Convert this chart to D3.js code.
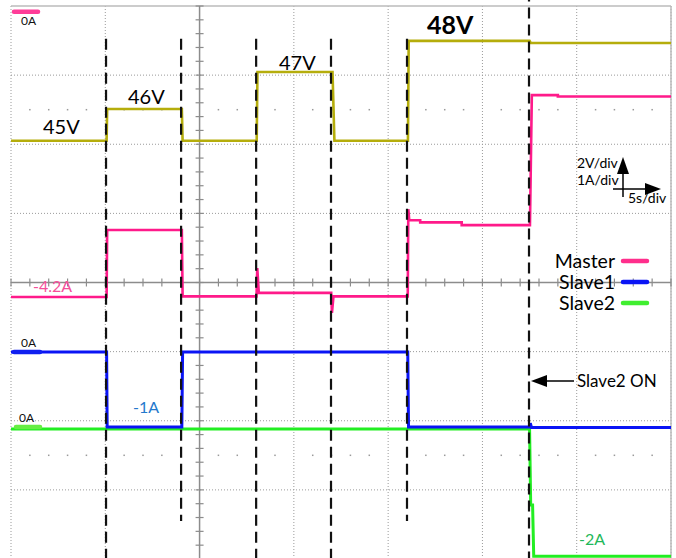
<!DOCTYPE html>
<html><head><meta charset="utf-8">
<script src="https://cdn.jsdelivr.net/npm/d3@7"></script>
<style>
html,body{margin:0;padding:0;background:#fff;}
svg{display:block;}
text{font-family:Lato,"Liberation Sans",sans-serif;}
</style></head>
<body>
<svg id="chart" width="676" height="558"></svg>
<script>
// ---------- data ----------
// time axis: 5 s/div, 7 visible divisions
const timeTicks = [0, 5, 10, 15, 20, 25, 30, 35];
const divTicks = [-4, -3, -2, -1, 0, 1, 2, 3, 4];
// step instants (s) marked by the dashed lines
const eventTimes = [5.04, 9.02, 13.0, 16.97, 21.0, 27.47];
const eventTop = [47.95, 47.95, 47.95, 47.95, 47.95, 49.35]; // upper end, in volts
const eventBottom = [-4.0, -3.45, -4.0, -4.0, -3.45, -4.0]; // lower end, in divisions

// Bus voltage (V), 2 V/div
const voltT = [0, 5.07, 5.10, 9.06, 9.10, 13.03, 13.07, 17.05, 17.15, 21.05, 21.09, 27.5, 27.56, 35];
const voltV = [45.0, 45.0, 45.92, 45.92, 45.0, 45.0, 46.99, 46.99, 45.0, 45.0, 47.89, 47.89, 47.83, 47.83];

// Master current (A), 1 A/div
const masterT = [0, 5.07, 5.10, 9.06, 9.10, 13.02, 13.06, 13.14, 16.98, 17.02, 17.10, 21.04, 21.07, 21.12, 21.7, 21.7, 23.9, 23.9, 27.52, 27.62, 29.0, 29.0, 35];
const masterI = [-4.14, -4.14, -3.17, -3.17, -4.13, -4.13, -3.72, -4.08, -4.08, -4.37, -4.13, -4.13, -2.87, -3.03, -3.03, -3.06, -3.06, -3.10, -3.10, -1.22, -1.22, -1.24, -1.24];

// Slave1 current (A), 1 A/div
const slave1T = [0, 5.07, 5.10, 9.06, 9.10, 21.04, 21.08, 27.5, 27.54, 27.6, 35];
const slave1I = [0, 0, -1.085, -1.085, 0, 0, -1.085, -1.085, -1.03, -1.09, -1.09];

// Slave2 current (A), 1 A/div
const slave2T = [0, 27.5, 27.56, 27.66, 27.72, 35];
const slave2I = [-0.03, -0.03, -1.13, -1.13, -1.87, -1.87];

// channel reference positions (divisions from screen centre) and voltage offset
const voltOffset = 40.9;      // V at the screen centre
const masterZero = 3.93;      // div
const slave1Zero = -1.006;    // div
const slave2Zero = -2.09;     // div

const legendNames = ["Master", "Slave1", "Slave2"];
const legendColors = ["#ff2e8c", "#0a14f5", "#40ee30"];

// ---------- scales ----------
const svg = d3.select("#chart");
const x = d3.scaleLinear().domain([0, 35]).range([11, 671]);
const yDiv = d3.scaleLinear().domain([-4, 4]).range([559, 6]);
const yVolt = v => yDiv((v - voltOffset) / 2);
const yAmp = zero => a => yDiv(a + zero);

const gridCol = "#9a9a9a";
const g = svg.append("g");

// dotted graticule
g.selectAll("line.vg").data(timeTicks.filter(t => t !== 10)).join("line")
  .attr("x1", d => x(d)).attr("x2", d => x(d))
  .attr("y1", yDiv(4)).attr("y2", yDiv(-4))
  .attr("stroke", gridCol).attr("stroke-width", 1).attr("stroke-dasharray", "1,2");
g.selectAll("line.hg").data(divTicks.filter(d => d !== 0 && d !== 4)).join("line")
  .attr("x1", x(0)).attr("x2", x(35))
  .attr("y1", d => yDiv(d)).attr("y2", d => yDiv(d))
  .attr("stroke", gridCol).attr("stroke-width", 1).attr("stroke-dasharray", "1,2");
// top and right borders
g.append("line").attr("x1", x(0)).attr("x2", x(35)).attr("y1", yDiv(4)).attr("y2", yDiv(4))
  .attr("stroke", "#bbb").attr("stroke-width", 1.5);
g.append("line").attr("x1", x(35)).attr("x2", x(35)).attr("y1", yDiv(4)).attr("y2", yDiv(-4))
  .attr("stroke", "#bbb").attr("stroke-width", 1.5);

// sub-division dot rows
const subT = d3.range(0, 35.01, 1).filter(t => t % 5 !== 0);
[2.5, -2.5].forEach(dv => {
  g.selectAll(null).data(subT).join("rect")
    .attr("x", d => x(d) - 0.75).attr("y", yDiv(dv) - 0.75)
    .attr("width", 1.5).attr("height", 1.5).attr("fill", gridCol);
});

// centre axes with minor ticks
g.append("line").attr("x1", x(10)).attr("x2", x(10)).attr("y1", yDiv(4)).attr("y2", yDiv(-4))
  .attr("stroke", "#8c8c8c").attr("stroke-width", 1.5);
g.append("line").attr("x1", x(0)).attr("x2", x(35)).attr("y1", yDiv(0)).attr("y2", yDiv(0))
  .attr("stroke", "#8c8c8c").attr("stroke-width", 1.5);
const subDiv = d3.range(-4, 4.001, 0.2).map(d => Math.round(d * 10) / 10);
g.selectAll(null).data(subDiv).join("line")
  .attr("x1", x(10) - 4).attr("x2", x(10) + 4)
  .attr("y1", d => yDiv(d)).attr("y2", d => yDiv(d))
  .attr("stroke", "#8c8c8c").attr("stroke-width", 1.2);
g.selectAll(null).data(d3.range(0, 35.01, 1)).join("line")
  .attr("x1", d => x(d)).attr("x2", d => x(d))
  .attr("y1", yDiv(0) - 4).attr("y2", yDiv(0) + 4)
  .attr("stroke", "#8c8c8c").attr("stroke-width", 1.2);

// ---------- traces ----------
function trace(T, V, yf, color, w) {
  const line = d3.line().x((d, i) => x(T[i])).y(d => yf(d));
  svg.append("path").attr("d", line(V)).attr("fill", "none")
    .attr("stroke", color).attr("stroke-width", w).attr("stroke-linejoin", "miter");
}
trace(slave2T, slave2I, yAmp(slave2Zero), "#22ee22", 3);
trace(slave1T, slave1I, yAmp(slave1Zero), "#0a14f5", 3);
trace(masterT, masterI, yAmp(masterZero), "#ff1a8a", 2.6);
trace(voltT, voltV, yVolt, "#b5ad0c", 2.6);

// channel zero markers
const markers = [
  {zero: masterZero, color: "#ff3d99", x0: 12, x1: 40},
  {zero: slave1Zero, color: "#1020f0", x0: 12, x1: 42},
  {zero: slave2Zero, color: "#66ee44", x0: 14, x1: 42}
];
svg.selectAll(null).data(markers).join("line")
  .attr("x1", d => d.x0 + 2).attr("x2", d => d.x1 - 2)
  .attr("y1", d => yDiv(d.zero) + (d.zero > 0 ? 1 : 0)).attr("y2", d => yDiv(d.zero) + (d.zero > 0 ? 1 : 0))
  .attr("stroke", d => d.color).attr("stroke-width", 4.5).attr("stroke-linecap", "round");
svg.selectAll(null).data(markers).join("text")
  .attr("x", (d, i) => i === 2 ? 19 : 21)
  .attr("y", (d, i) => i === 0 ? yDiv(d.zero) + 14 : yDiv(d.zero) - 5)
  .attr("font-size", 12).attr("fill", "#111").text("0A");

// dashed event lines
svg.selectAll(null).data(eventTimes).join("line")
  .attr("x1", d => x(d)).attr("x2", d => x(d))
  .attr("y1", (d, i) => yVolt(eventTop[i])).attr("y2", (d, i) => yDiv(eventBottom[i]))
  .attr("stroke", "#111").attr("stroke-width", 2.2).attr("stroke-dasharray", "11,6");

// ---------- annotations ----------
const ann = svg.append("g");
ann.append("text").attr("x", 43).attr("y", 134).attr("font-size", 20).text("45V");
ann.append("text").attr("x", 128).attr("y", 104).attr("font-size", 20).text("46V");
ann.append("text").attr("x", 279).attr("y", 70).attr("font-size", 20).text("47V");
ann.append("text").attr("x", 427).attr("y", 34).attr("font-size", 25).attr("font-weight", "bold").text("48V");
ann.append("text").attr("x", 33).attr("y", 292).attr("font-size", 16).attr("fill", "#f5509a").text("-4.2A");
ann.append("text").attr("x", 133).attr("y", 413).attr("font-size", 16).attr("fill", "#2479cc").text("-1A");
ann.append("text").attr("x", 579).attr("y", 545).attr("font-size", 16).attr("fill", "#1fb85a").text("-2A");

// scale indicator
ann.append("text").attr("x", 577).attr("y", 168).attr("font-size", 14).text("2V/div");
ann.append("text").attr("x", 577).attr("y", 185).attr("font-size", 14).text("1A/div");
ann.append("text").attr("x", 628).attr("y", 203).attr("font-size", 14).text("5s/div");
ann.append("line").attr("x1", 623).attr("x2", 623).attr("y1", 197).attr("y2", 170).attr("stroke", "#000").attr("stroke-width", 1.5);
ann.append("path").attr("d", "M623,157 L617,174 L629,174 Z").attr("fill", "#000");
ann.append("line").attr("x1", 613).attr("x2", 648).attr("y1", 189).attr("y2", 189).attr("stroke", "#000").attr("stroke-width", 1.5);
ann.append("path").attr("d", "M661,189 L645,183 L645,195 Z").attr("fill", "#000");

// Slave2 ON arrow
ann.append("line").attr("x1", 574).attr("x2", 545).attr("y1", 381).attr("y2", 381).attr("stroke", "#000").attr("stroke-width", 1.5);
ann.append("path").attr("d", "M531,381 L547,375 L547,387 Z").attr("fill", "#000");
ann.append("text").attr("x", 577).attr("y", 387).attr("font-size", 17).text("Slave2 ON");

// legend
const leg = svg.append("g");
legendNames.forEach((n, i) => {
  const yy = 261 + i * 21;
  leg.append("text").attr("x", 615).attr("y", yy + 7).attr("text-anchor", "end")
    .attr("font-size", 19.5).text(n);
  leg.append("line").attr("x1", 623).attr("x2", 647).attr("y1", yy).attr("y2", yy)
    .attr("stroke", legendColors[i]).attr("stroke-width", 4.5).attr("stroke-linecap", "round");
});
</script>
</body></html>
